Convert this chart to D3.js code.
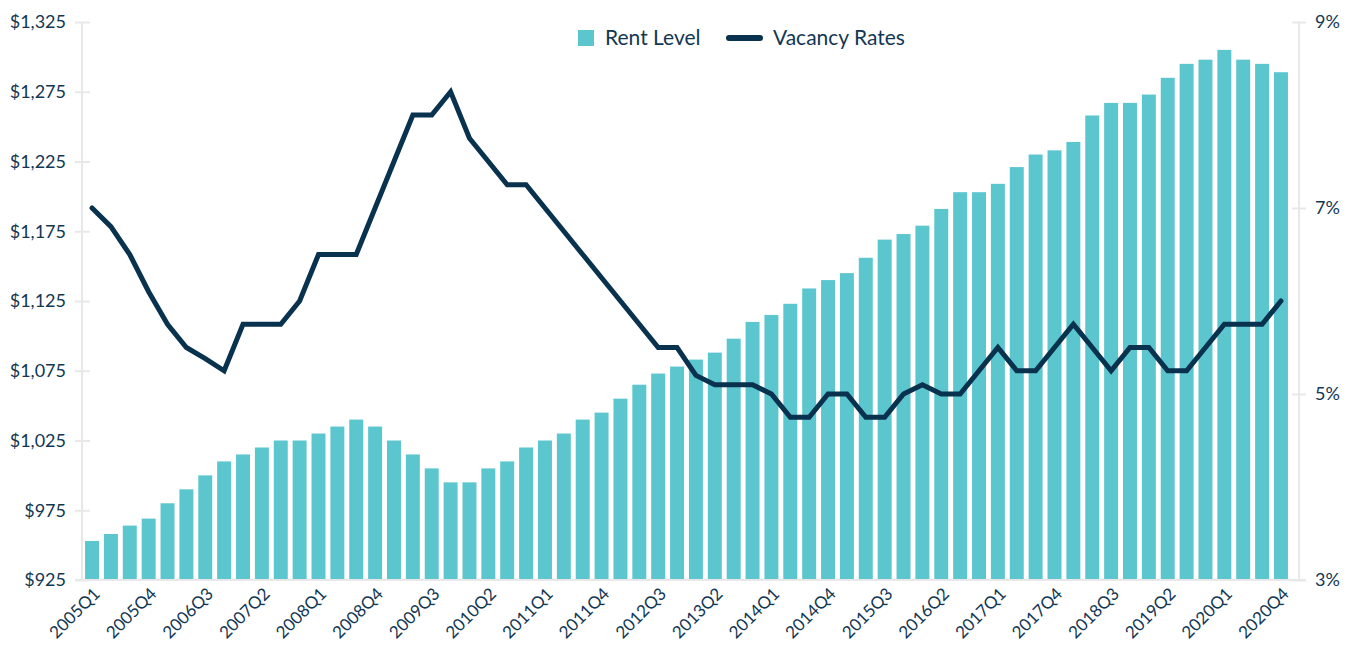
<!DOCTYPE html>
<html>
<head>
<meta charset="utf-8">
<script src="https://cdn.jsdelivr.net/npm/d3@7"></script>
<style>
  html, body { margin: 0; padding: 0; background: #fff; }
  svg text { font-family: Lato, "Noto Sans", sans-serif; fill: #123753; }
</style>
</head>
<body>
<div id="chart"></div>
<script>
'use strict';

const quarters = [];
for (let y = 2005; y <= 2020; y++) for (let q = 1; q <= 4; q++) quarters.push(`${y}Q${q}`);

const rentLevel = [953, 958, 964, 969, 980, 990, 1000, 1010, 1015, 1020,
  1025, 1025, 1030, 1035, 1040, 1035, 1025, 1015, 1005, 995,
  995, 1005, 1010, 1020, 1025, 1030, 1040, 1045, 1055, 1065,
  1073, 1078, 1083, 1088, 1098, 1110, 1115, 1123, 1134, 1140,
  1145, 1156, 1169, 1173, 1179, 1191, 1203, 1203, 1209, 1221,
  1230, 1233, 1239, 1258, 1267, 1267, 1273, 1285, 1295, 1298,
  1305, 1298, 1295, 1289];

const vacancyRates = [7.0, 6.8, 6.5, 6.1, 5.75, 5.5, 5.38, 5.25, 5.75, 5.75,
  5.75, 6.0, 6.5, 6.5, 6.5, 7.0, 7.5, 8.0, 8.0, 8.25,
  7.75, 7.5, 7.25, 7.25, 7.0, 6.75, 6.5, 6.25, 6.0, 5.75,
  5.5, 5.5, 5.2, 5.1, 5.1, 5.1, 5.0, 4.75, 4.75, 5.0,
  5.0, 4.75, 4.75, 5.0, 5.1, 5.0, 5.0, 5.25, 5.5, 5.25,
  5.25, 5.5, 5.75, 5.5, 5.25, 5.5, 5.5, 5.25, 5.25, 5.5,
  5.75, 5.75, 5.75, 6.0];

const rentTicks = [925, 975, 1025, 1075, 1125, 1175, 1225, 1275, 1325];
const rateTicks = [3, 5, 7, 9];
const xLabels = quarters.filter((d, i) => i % 3 === 0);

const W = 1359, H = 647;
const plotTop = 22, plotBottom = 580, plotLeft = 82, plotRight = 1299;
const barColor = '#5cc6cf', lineColor = '#09324f', gridColor = '#e8e8e8';

const svg = d3.select('#chart').append('svg')
    .attr('width', W)
    .attr('height', H);

const x = d3.scaleBand().domain(quarters).range([82.6, 1290.4])
    .paddingInner(0.26).paddingOuter(0.13);
const yRent = d3.scaleLinear().domain([925, 1325]).range([plotBottom, plotTop]);
const yRate = d3.scaleLinear().domain([3, 9]).range([plotBottom, plotTop]);

// left axis
const leftAxis = svg.append('g')
    .attr('transform', `translate(${plotLeft},0)`)
    .call(d3.axisLeft(yRent).tickValues(rentTicks).tickSize(7).tickPadding(9)
      .tickFormat(d => '$' + d3.format(',')(d)));
leftAxis.select('.domain').attr('stroke', gridColor).attr('stroke-width', 2).attr('d', `M0,${plotTop}V${plotBottom}`);
leftAxis.selectAll('.tick line').attr('stroke', gridColor).attr('stroke-width', 2).attr('x1', 8);
leftAxis.selectAll('text').style('font-size', '18px');

// right axis
const rightAxis = svg.append('g')
    .attr('transform', `translate(${plotRight},0)`)
    .call(d3.axisRight(yRate).tickValues(rateTicks).tickSize(7).tickPadding(9)
      .tickFormat(d => d + '%'));
rightAxis.select('.domain').attr('stroke', gridColor).attr('stroke-width', 2).attr('d', `M0,${plotTop}V${plotBottom}`);
rightAxis.selectAll('.tick line').attr('stroke', gridColor).attr('stroke-width', 2).attr('x1', -7);
rightAxis.selectAll('text').style('font-size', '18px');

// bars
svg.append('g').selectAll('rect')
  .data(rentLevel)
  .join('rect')
    .attr('x', (d, i) => x(quarters[i]))
    .attr('y', d => yRent(d))
    .attr('width', x.bandwidth())
    .attr('height', d => yRent(925) - yRent(d))
    .attr('fill', barColor);

// bottom axis
const bottomAxis = svg.append('g')
    .attr('transform', `translate(0,${plotBottom})`)
    .call(d3.axisBottom(x).tickValues(xLabels).tickSize(0).tickPadding(0));
bottomAxis.select('.domain').attr('stroke', gridColor).attr('stroke-width', 2).attr('d', `M${plotLeft - 7},0H${plotRight + 7}`);
bottomAxis.selectAll('text')
    .style('font-size', '17px')
    .attr('text-anchor', 'end')
    .attr('dy', null)
    .attr('transform', 'translate(9,15) rotate(-45)');

// line
const line = d3.line()
    .x((d, i) => x(quarters[i]) + x.bandwidth() / 2)
    .y(d => yRate(d));
svg.append('path')
    .datum(vacancyRates)
    .attr('d', line)
    .attr('fill', 'none')
    .attr('stroke', lineColor)
    .attr('stroke-width', 5)
    .attr('stroke-linejoin', 'miter')
    .attr('stroke-linecap', 'round');

// legend
const legend = svg.append('g');
legend.append('rect').attr('x', 578).attr('y', 30).attr('width', 16).attr('height', 16).attr('fill', barColor);
legend.append('text').attr('x', 605).attr('y', 45).style('font-size', '21px').text('Rent Level');
legend.append('line').attr('x1', 729).attr('x2', 760).attr('y1', 38).attr('y2', 38)
    .attr('stroke', lineColor).attr('stroke-width', 6).attr('stroke-linecap', 'round');
legend.append('text').attr('x', 773).attr('y', 45).style('font-size', '21px').text('Vacancy Rates');
</script>
</body>
</html>
